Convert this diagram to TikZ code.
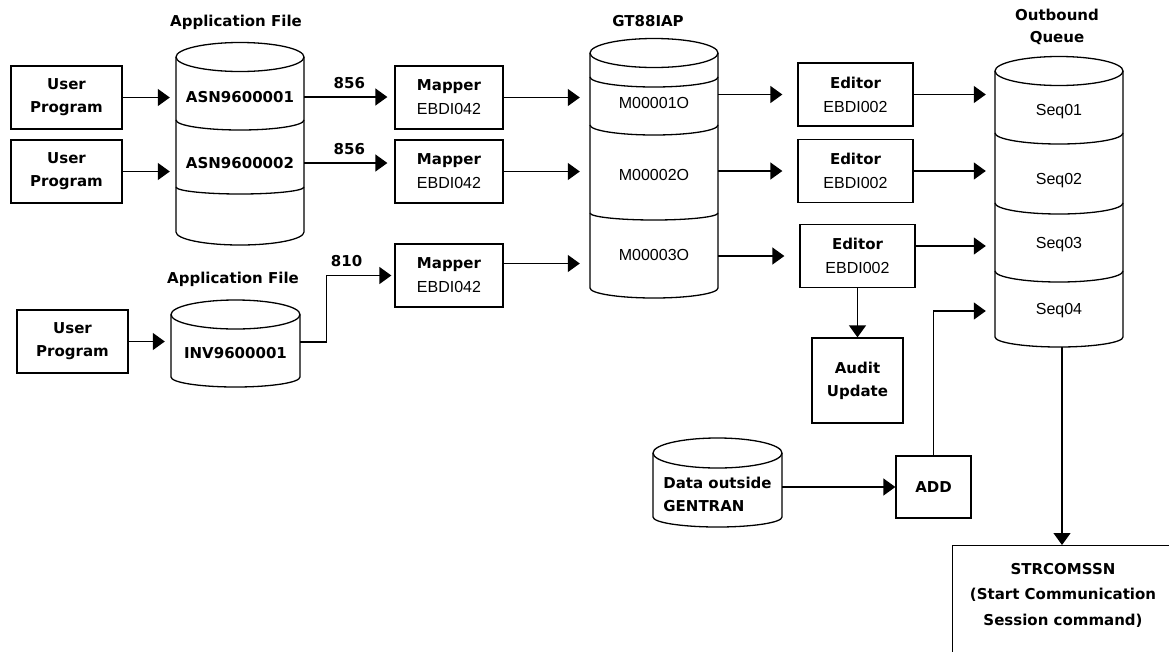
\documentclass[tikz,border=0pt]{standalone}
\usepackage{fontspec}
\setmainfont{Liberation Sans}
\newfontfamily\hdfont{DejaVu Sans}
\usepackage{tikz}
\usetikzlibrary{arrows.meta,positioning}
\newcommand{\hd}{\hdfont\bfseries\fontsize{15}{23}\selectfont}
% cylinder: centre x, half width, top y, bottom y, top radius, bottom radius
\newcommand{\drum}[6]{%
\draw [line width=1.3pt] (#1,#3) ellipse [x radius=#2, y radius=#5];
\draw [line width=1.3pt] (#1-#2,#3)--(#1-#2,#4) arc [start angle=180, end angle=0, x radius=#2, y radius=#6]--(#1+#2,#3);}
\newcommand{\drumcut}[4]{%
\draw [line width=1.3pt] (#1-#2,#3) arc [start angle=180, end angle=0, x radius=#2, y radius=#4];}
\tikzset{
  >={Triangle[length=12pt,width=17pt]},
  box/.style={draw,line width=1.3pt,inner sep=0pt,align=center,font=\fontsize{16}{24}\selectfont},
  sect/.style={inner sep=0pt,minimum width=128pt,align=center,font=\fontsize{16}{24}\selectfont},
  title/.style={inner sep=0pt,align=center,font=\hd},
  lab/.style={above=8pt,inner sep=0pt,font=\hd},
  flow/.style={->,line width=1.3pt,shorten >=#1},
  flow/.default=0pt
}
\begin{document}
\begin{tikzpicture}[x=1pt,y=-1pt]
\useasboundingbox (0,0) rectangle (1169,651);
\clip (0,0) rectangle (1169,651);
% cylinders
\drum{240}{64}{57}{232}{14.5}{13}
\drumcut{240}{64}{120}{10}
\drumcut{240}{64}{187}{7}
\drum{654}{64}{53}{288}{14.5}{10}
\drumcut{654}{64}{77}{10}
\drumcut{654}{64}{125}{10}
\drumcut{654}{64}{213}{7}
\drum{1059}{64}{71}{337}{14.5}{10}
\drumcut{1059}{64}{133}{11}
\drumcut{1059}{64}{203}{11}
\drumcut{1059}{64}{271}{11}
\drum{235.5}{64.5}{314.5}{377}{14.5}{10}
\drum{717.5}{64.5}{453}{517}{15}{10}
% titles
\node [title] (apptitle1) at (236,22) {Application File};
\node [title] (apptitle2) at (233,279) {Application File};
\node [title] (gttitle) at (648,21) {GT88IAP};
\node [title,font=\hdfont\bfseries\fontsize{15}{22}\selectfont] (qtitle) at (1057,27) {Outbound\\Queue};
% cylinder sections
\node [sect,font=\hd] (asn1) at (240,97) {ASN9600001};
\node [sect,font=\hd] (asn2) at (240,163) {ASN9600002};
\node [sect,minimum width=129pt,font=\hd] (inv) at (235.5,353) {INV9600001};
\node [sect] (gt1) at (654,103) {M00001O};
\node [sect] (gt2) at (654,175) {M00002O};
\node [sect] (gt3) at (654,255) {M00003O};
\node [sect] (seq1) at (1059,112) {Seq01};
\node [sect] (seq2) at (1059,181) {Seq02};
\node [sect] (seq3) at (1059,245) {Seq03};
\node [sect] (seq4) at (1059,311) {Seq04};
\node [sect,minimum width=129pt,align=left,font=\hd] (data) at (717.5,494) {Data outside\\GENTRAN};
\coordinate (qbot) at (1062,347);
% boxes
\node [box,font=\hd,minimum width=111pt,minimum height=63pt] (user1) at (66.5,97.5) {User\\Program};
\node [box,font=\hd,minimum width=111pt,minimum height=63pt] (user2) at (66.5,171.5) {User\\Program};
\node [box,font=\hd,minimum width=111pt,minimum height=63pt] (user3) at (72.5,341.5) {User\\Program};
\node [box,minimum width=108pt,minimum height=63pt] (map1) at (449,97.5) {{\hd Mapper}\\EBDI042};
\node [box,minimum width=108pt,minimum height=63pt] (map2) at (449,171.5) {{\hd Mapper}\\EBDI042};
\node [box,minimum width=108pt,minimum height=63pt] (map3) at (449,275.5) {{\hd Mapper}\\EBDI042};
\node [box,minimum width=115pt,minimum height=63pt] (ed1) at (855.5,94.5) {{\hd Editor}\\EBDI002};
\node [box,minimum width=115pt,minimum height=63pt] (ed2) at (855.5,171) {{\hd Editor}\\EBDI002};
\node [box,minimum width=115pt,minimum height=63pt] (ed3) at (857.5,256) {{\hd Editor}\\EBDI002};
\node [box,font=\hd,minimum width=91pt,minimum height=85pt] (audit) at (857.5,380.5) {Audit\\Update};
\node [box,font=\hd,minimum width=75pt,minimum height=62pt] (add) at (933.5,487) {ADD};
\node [box,anchor=north west,minimum width=222pt,minimum height=130pt] (strc) at (952,545) {};
\node [title,font=\hdfont\bfseries\fontsize{15}{25.5}\selectfont] (strctext) at (1063,595) {STRCOMSSN\\(Start Communication\\Session command)};
% connectors
\draw [flow=6pt] (user1.east)--(user1.east -| asn1.west);
\draw [flow=6pt] (user2.east)--(user2.east -| asn2.west);
\draw [flow=6pt] (user3.east)--(user3.east -| inv.west);
\draw [flow=7pt] (asn1.east)--node[lab]{856}(asn1.east -| map1.west);
\draw [flow=7pt] (asn2.east)--node[lab]{856}(asn2.east -| map2.west);
\draw [flow=3pt] ([yshift=11pt]inv.east)--++(26,0) |- node[lab,pos=0.65]{810}(map3.west);
\draw [flow=10pt] (map1.east)--(map1.east -| gt1.west);
\draw [flow=10pt] (map2.east)--(map2.east -| gt2.west);
\draw [flow=10pt] ([yshift=12pt]map3.east)--([yshift=12pt]map3.east -| gt3.west);
\draw [flow=15pt] (ed1.west -| gt1.east)--(ed1.west);
\draw [flow=15pt] (ed2.west -| gt2.east)--(ed2.west);
\draw [flow=15pt] (ed3.west -| gt3.east)--(ed3.west);
\draw [flow=9pt] (ed1.east)--(ed1.east -| seq1.west);
\draw [flow=9pt] (ed2.east)--(ed2.east -| seq2.west);
\draw [flow=9pt] ([yshift=10pt]ed3.east)--([yshift=10pt]ed3.east -| seq3.west);
\draw [flow] (ed3.south)--(audit.north);
\draw [flow=9pt] (add.north) |- (seq4.west);
\draw [flow] (add.west -| data.east)--(add.west);
\draw [flow] (qbot)--(qbot |- strc.north);
\end{tikzpicture}
\end{document}
